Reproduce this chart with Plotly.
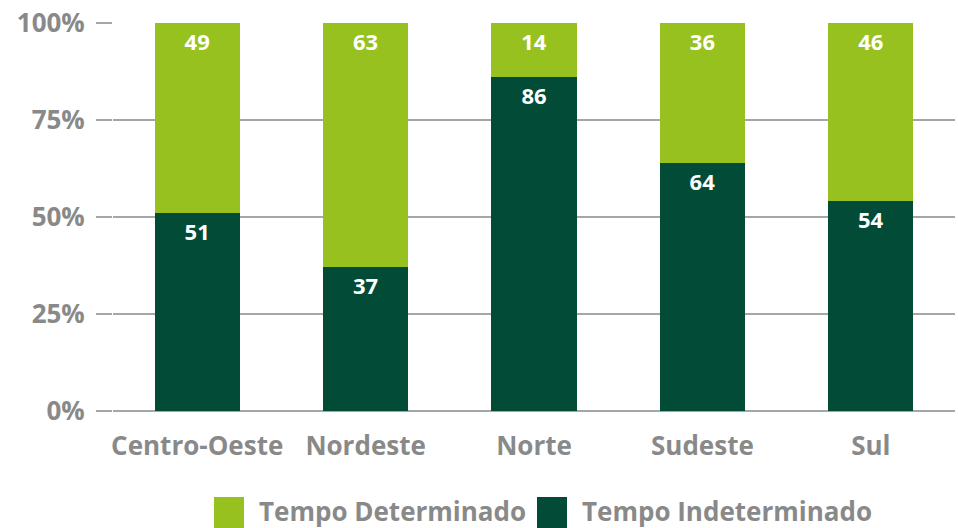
import plotly.graph_objects as go

categories = ["Centro-Oeste", "Nordeste", "Norte", "Sudeste", "Sul"]
indeterminado = [51, 37, 86, 64, 54]
determinado = [49, 63, 14, 36, 46]
y_ticks = [0, 25, 50, 75, 100]
y_tick_labels = ["0%", "25%", "50%", "75%", "100%"]
series_names = ["Tempo Determinado", "Tempo Indeterminado"]

LIGHT = "#97C11F"
DARK = "#024B37"
GRAY = "#898989"
FONT = "Open Sans"

W, H = 958, 528
L, R, T, B = 113, 3, 23, 117
pw, ph = W - L - R, H - T - B

fig = go.Figure()
fig.add_trace(go.Bar(
    x=categories, y=indeterminado, name=series_names[1],
    marker=dict(color=DARK, line=dict(width=0)),
    text=[str(v) for v in indeterminado], textposition="inside",
    insidetextanchor="end", textangle=0, constraintext="none",
    textfont=dict(family=FONT, size=22, color="white", weight="bold"),
    width=0.505, showlegend=False))
fig.add_trace(go.Bar(
    x=categories, y=determinado, name=series_names[0],
    marker=dict(color=LIGHT, line=dict(width=0)),
    text=[str(v) for v in determinado], textposition="inside",
    insidetextanchor="end", textangle=0, constraintext="none",
    textfont=dict(family=FONT, size=22, color="white", weight="bold"),
    width=0.505, showlegend=False))

def px_x(p):
    return (p - L) / pw

def px_y(p):
    return (H - B - p) / ph

# custom legend
legend_items = [(series_names[0], LIGHT, 214, 257), (series_names[1], DARK, 537, 580)]
shapes = []
annotations = []
for name, col, sq_x, tx in legend_items:
    shapes.append(dict(type="rect", xref="paper", yref="paper",
                       x0=px_x(sq_x), x1=px_x(sq_x + 30),
                       y0=px_y(497), y1=px_y(528),
                       fillcolor=col, line=dict(width=0), layer="above"))
    annotations.append(dict(xref="paper", yref="paper", x=px_x(tx), y=px_y(511),
                            xanchor="left", yanchor="middle", showarrow=False,
                            text=name,
                            font=dict(family=FONT, size=26, color=GRAY, weight="bold")))

fig.update_layout(
    width=W, height=H, barmode="stack",
    margin=dict(l=L, r=R, t=T, b=B, pad=0, autoexpand=False),
    paper_bgcolor="white", plot_bgcolor="white",
    bargap=0.495,
    shapes=shapes, annotations=annotations,
    font=dict(family=FONT, color=GRAY),
    xaxis=dict(tickfont=dict(family=FONT, size=26, color=GRAY, weight="bold"),
               showline=False, showgrid=False, ticks="", range=[-0.5, 4.5],
               ticklabelstandoff=17, fixedrange=True, automargin=False),
    yaxis=dict(range=[0, 100], tickvals=y_ticks, ticktext=y_tick_labels,
               tickfont=dict(family=FONT, size=26, color=GRAY, weight="bold"),
               showgrid=True, gridcolor="#A6A6A6", gridwidth=2,
               ticks="outside", ticklen=16, tickwidth=2, tickcolor="#A6A6A6",
               ticklabelstandoff=6,
               zeroline=True, zerolinecolor="#A6A6A6", zerolinewidth=2,
               showline=False, fixedrange=True, automargin=False),
)

fig.write_html("out.html",
               config={"displayModeBar": False},
               post_script="document.body.style.margin='0';document.body.style.padding='0';document.body.style.overflow='hidden';")
